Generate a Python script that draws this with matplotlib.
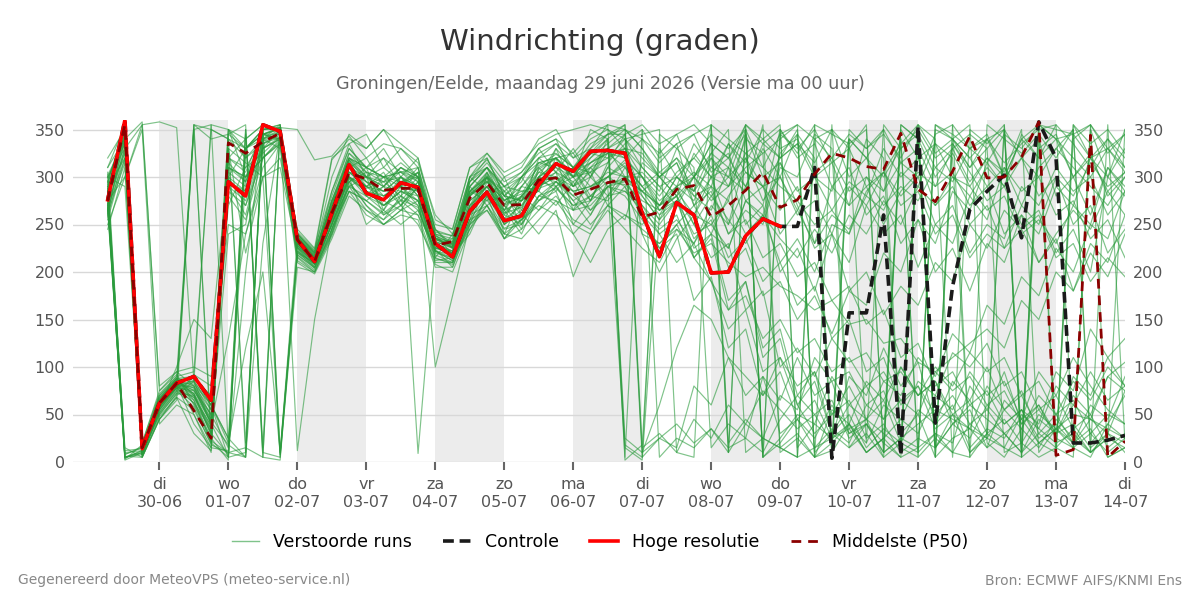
import numpy as np
import pandas as pd
import matplotlib
matplotlib.use("Agg")
import matplotlib.pyplot as plt
from matplotlib.lines import Line2D

# 6-uurlijkse tijdstappen vanaf ma 29-06 06:00
start = "2026-06-29 06:00"

hoge_resolutie = [
    276, 360, 14, 62, 83, 90, 65, 295, 280, 355,
    348, 234, 211, 262, 313, 283, 276, 294, 289, 230,
    216, 264, 284, 254, 259, 292, 314, 306, 327, 328,
    325, 262, 216, 273, 260, 199, 200, 238, 256, 248,
]

controle = [
    276, 360, 14, 62, 83, 90, 65, 295, 280, 355,
    348, 234, 211, 262, 313, 283, 276, 294, 289, 230,
    216, 264, 284, 254, 259, 292, 314, 306, 327, 328,
    325, 262, 216, 273, 260, 199, 200, 238, 256, 248,
    248, 310, 4, 157, 157, 260, 7, 353, 41, 185,
    266, 285, 302, 236, 358, 320, 20, 20, 23, 28,
]

middelste = [
    275, 355, 15, 62, 83, 54, 25, 336, 325, 337,
    346, 234, 211, 262, 304, 298, 286, 288, 288, 228,
    232, 278, 294, 270, 271, 297, 299, 281, 287, 294,
    298, 258, 263, 287, 291, 258, 270, 286, 305, 268,
    276, 303, 325, 320, 311, 308, 346, 287, 274, 306,
    343, 299, 300, 321, 358, 7, 13, 344, 5, 22,
]

# verstoorde runs: per run 60 waarden (29-06 06 uur t/m 14-07 00 uur)
verstoorde_runs = [
    [285, 345, 8, 55, 78, 62, 35, 310, 300, 345, 340, 225, 205,
     250, 318, 280, 300, 270, 295, 240, 218, 290, 270, 285, 250, 310, 290, 300, 275, 310, 330,
     280, 255, 290, 300, 275, 290, 310, 325, 340, 355, 5, 12, 340, 320, 300, 330, 350, 15, 40, 60, 45, 30, 10, 355, 340, 320, 300, 330, 310],
    [270, 5, 12, 60, 85, 75, 50, 15, 330, 350, 5, 220, 210,
     275, 295, 310, 265, 300, 280, 215, 240, 265, 305, 255, 290, 285, 320, 265, 300, 280, 300,
     300, 270, 285, 260, 250, 275, 240, 260, 210, 235, 200, 250, 240, 300, 285, 340, 10, 30, 20, 80, 55, 95, 40, 60, 25, 15, 350, 300, 330],
    [300, 330, 15, 70, 90, 355, 20, 290, 260, 330, 350, 238, 215,
     285, 335, 300, 320, 290, 310, 235, 225, 300, 285, 290, 265, 320, 305, 250, 275, 315, 345,
     240, 230, 250, 215, 190, 140, 160, 95, 110, 60, 30, 50, 80, 45, 65, 20, 10, 350, 340, 320, 290, 310, 270, 310, 330, 350, 20, 40, 70],
    [260, 350, 5, 45, 70, 85, 40, 5, 10, 340, 355, 215, 200,
     240, 290, 265, 255, 280, 270, 210, 210, 255, 300, 240, 280, 265, 290, 310, 305, 270, 255,
     315, 300, 320, 300, 335, 320, 355, 5, 20, 45, 25, 60, 30, 40, 10, 355, 340, 300, 325, 290, 320, 305, 350, 10, 35, 20, 60, 45, 90],
    [290, 320, 18, 65, 82, 40, 15, 330, 315, 300, 320, 230, 218,
     260, 310, 320, 290, 310, 300, 245, 228, 285, 275, 300, 260, 300, 330, 290, 320, 335, 350,
     330, 300, 315, 280, 290, 240, 265, 250, 310, 300, 345, 330, 15, 30, 5, 20, 350, 320, 335, 305, 275, 290, 250, 265, 220, 245, 200, 300, 280],
    [275, 2, 10, 50, 72, 90, 60, 25, 5, 230, 345, 228, 212,
     255, 300, 290, 275, 265, 290, 225, 220, 270, 290, 265, 300, 275, 295, 280, 265, 290, 285,
     270, 240, 255, 230, 270, 250, 320, 290, 300, 260, 275, 240, 290, 270, 305, 280, 300, 250, 270, 220, 250, 235, 290, 270, 310, 285, 300, 260, 285],
    [310, 355, 20, 75, 95, 80, 55, 350, 340, 355, 10, 235, 220,
     300, 345, 330, 350, 320, 300, 250, 245, 310, 320, 280, 295, 330, 340, 300, 350, 340, 355,
     10, 25, 15, 80, 60, 110, 70, 90, 30, 45, 15, 35, 20, 60, 45, 100, 70, 85, 50, 65, 30, 45, 20, 50, 35, 90, 70, 110, 80],
    [250, 300, 350, 40, 60, 50, 10, 350, 320, 340, 330, 210, 198,
     235, 280, 265, 250, 260, 255, 205, 205, 250, 265, 235, 255, 270, 260, 240, 210, 245, 260,
     250, 270, 300, 285, 355, 20, 45, 25, 15, 5, 340, 350, 300, 320, 285, 315, 300, 345, 355, 10, 30, 350, 320, 340, 280, 300, 260, 310, 285],
    [280, 340, 12, 68, 88, 70, 30, 280, 255, 320, 340, 240, 222,
     270, 325, 305, 295, 300, 285, 238, 230, 290, 310, 270, 300, 315, 320, 325, 300, 330, 320,
     340, 315, 335, 345, 355, 10, 40, 25, 70, 55, 110, 85, 95, 60, 75, 30, 50, 5, 355, 330, 345, 300, 320, 280, 300, 250, 270, 220, 245],
    [265, 5, 8, 58, 80, 65, 25, 2, 350, 10, 5, 205, 200,
     245, 285, 275, 260, 270, 250, 212, 215, 245, 280, 265, 240, 280, 275, 250, 240, 265, 245,
     225, 210, 245, 230, 260, 215, 235, 190, 210, 165, 185, 130, 150, 95, 110, 60, 80, 35, 50, 10, 25, 355, 5, 330, 345, 300, 320, 285, 305],
    [295, 350, 10, 62, 84, 88, 70, 320, 305, 350, 352, 232, 214,
     262, 305, 295, 285, 300, 290, 228, 235, 280, 295, 275, 285, 290, 305, 285, 290, 300, 315,
     290, 305, 290, 335, 310, 325, 275, 290, 240, 265, 230, 290, 270, 340, 320, 10, 350, 5, 335, 310, 340, 300, 340, 355, 15, 35, 10, 25, 350],
    [285, 15, 5, 48, 68, 30, 12, 330, 220, 300, 310, 222, 208,
     250, 300, 285, 270, 280, 265, 222, 212, 262, 300, 250, 265, 295, 290, 265, 280, 275, 300,
     260, 225, 240, 170, 195, 120, 140, 70, 95, 45, 65, 25, 40, 10, 25, 45, 30, 70, 55, 95, 70, 85, 45, 60, 30, 40, 15, 30, 10],
    [270, 330, 355, 80, 95, 100, 90, 250, 240, 310, 335, 245, 225,
     320, 335, 345, 310, 330, 315, 260, 240, 300, 325, 300, 310, 340, 350, 320, 330, 355, 5,
     350, 320, 335, 270, 300, 250, 290, 270, 350, 15, 40, 25, 90, 70, 120, 80, 105, 40, 60, 15, 35, 25, 55, 40, 95, 75, 140, 110, 130],
    [300, 290, 20, 72, 90, 95, 350, 340, 330, 345, 350, 226, 210,
     265, 300, 290, 305, 275, 295, 230, 222, 275, 290, 260, 280, 300, 295, 310, 280, 300, 318,
     300, 275, 290, 250, 280, 300, 285, 355, 15, 30, 5, 20, 350, 330, 345, 320, 355, 15, 40, 25, 60, 40, 55, 20, 10, 355, 320, 340, 310],
    [245, 310, 10, 52, 75, 58, 18, 10, 15, 5, 2, 218, 205,
     240, 295, 270, 250, 265, 275, 215, 208, 260, 270, 245, 250, 275, 285, 240, 260, 290, 295,
     285, 300, 280, 325, 300, 310, 250, 270, 200, 225, 180, 240, 210, 270, 240, 260, 205, 250, 230, 280, 255, 310, 285, 300, 260, 275, 235, 255, 215],
    [290, 345, 8, 60, 78, 75, 45, 300, 285, 330, 342, 236, 216,
     275, 320, 305, 300, 315, 300, 235, 232, 285, 305, 275, 290, 315, 310, 300, 325, 320, 340,
     345, 350, 10, 5, 355, 340, 325, 340, 355, 5, 15, 25, 35, 45, 30, 15, 5, 355, 345, 330, 340, 350, 5, 20, 35, 50, 45, 35, 25],
    [275, 8, 15, 65, 85, 50, 15, 12, 300, 320, 338, 230, 212,
     255, 305, 300, 280, 290, 275, 226, 218, 270, 285, 270, 255, 290, 300, 280, 310, 290, 15,
     2, 260, 290, 275, 320, 300, 320, 275, 300, 265, 300, 285, 340, 320, 350, 315, 330, 290, 305, 270, 290, 240, 260, 210, 235, 180, 220, 195, 240],
    [320, 350, 5, 45, 65, 355, 350, 340, 10, 350, 355, 242, 224,
     285, 330, 310, 330, 300, 320, 242, 238, 295, 315, 290, 305, 325, 335, 320, 340, 350, 340,
     320, 300, 280, 300, 325, 350, 10, 25, 15, 5, 355, 345, 335, 350, 10, 25, 40, 55, 45, 35, 25, 15, 5, 355, 350, 345, 355, 5, 15],
    [280, 325, 12, 60, 82, 78, 40, 130, 240, 300, 8, 220, 206,
     245, 300, 280, 265, 290, 270, 220, 215, 255, 280, 250, 275, 285, 270, 295, 265, 280, 310,
     290, 270, 280, 235, 255, 205, 225, 175, 190, 150, 175, 135, 180, 165, 220, 200, 255, 230, 285, 265, 315, 290, 345, 320, 340, 300, 325, 280, 300],
    [265, 340, 18, 70, 88, 65, 20, 320, 340, 355, 350, 234, 214,
     265, 310, 300, 290, 285, 305, 232, 225, 280, 300, 280, 260, 300, 315, 290, 300, 325, 330,
     325, 300, 315, 270, 285, 240, 255, 215, 230, 195, 210, 170, 185, 145, 160, 110, 125, 80, 95, 60, 75, 40, 55, 25, 40, 20, 45, 30, 75],
    [305, 5, 10, 55, 78, 85, 355, 350, 330, 340, 345, 228, 210,
     258, 300, 285, 280, 295, 9, 225, 222, 265, 285, 255, 270, 290, 300, 285, 290, 305, 300,
     285, 260, 275, 240, 250, 225, 275, 260, 325, 345, 5, 355, 35, 10, 25, 350, 320, 335, 300, 290, 265, 280, 240, 255, 230, 270, 250, 310, 290],
    [255, 320, 8, 50, 72, 70, 35, 290, 275, 335, 342, 216, 202,
     245, 295, 270, 255, 270, 290, 100, 175, 250, 270, 240, 255, 275, 290, 270, 280, 295, 292,
     275, 265, 280, 250, 215, 230, 160, 180, 100, 120, 90, 130, 105, 115, 85, 95, 70, 100, 80, 115, 95, 110, 70, 85, 50, 65, 30, 50, 40],
    [285, 355, 15, 62, 80, 92, 80, 270, 310, 340, 348, 232, 216,
     268, 315, 300, 295, 310, 295, 236, 228, 285, 300, 265, 290, 310, 320, 305, 320, 340, 2,
     18, 330, 300, 320, 345, 330, 350, 310, 290, 275, 250, 265, 240, 285, 305, 335, 355, 325, 340, 310, 330, 350, 10, 30, 15, 5, 355, 330, 345],
    [275, 300, 355, 358, 352, 85, 60, 20, 120, 200, 10, 222, 204,
     250, 290, 280, 270, 285, 280, 218, 210, 260, 285, 260, 250, 280, 295, 285, 260, 295, 296,
     270, 250, 275, 300, 335, 320, 345, 300, 315, 270, 225, 240, 180, 200, 155, 185, 165, 210, 190, 250, 225, 265, 245, 260, 215, 230, 190, 215, 195],
    [292, 348, 12, 58, 80, 350, 30, 310, 295, 345, 340, 238, 218,
     272, 320, 310, 300, 305, 290, 240, 232, 290, 310, 285, 300, 320, 325, 310, 335, 345, 350,
     330, 305, 320, 285, 310, 300, 350, 5, 25, 50, 40, 90, 60, 80, 45, 65, 50, 95, 75, 90, 60, 75, 40, 55, 30, 70, 50, 90, 105],
    [268, 3, 18, 66, 86, 72, 28, 340, 320, 335, 344, 226, 210,
     255, 310, 295, 275, 300, 280, 228, 220, 275, 290, 270, 280, 300, 310, 290, 305, 315, 335,
     350, 5, 25, 15, 35, 15, 25, 10, 45, 70, 50, 65, 25, 40, 10, 25, 15, 30, 10, 5, 355, 340, 325, 345, 320, 350, 10, 30, 20],
    [300, 335, 10, 64, 84, 82, 60, 5, 350, 15, 350, 240, 220,
     275, 325, 310, 300, 290, 305, 236, 226, 290, 310, 280, 275, 315, 320, 300, 325, 345, 345,
     5, 25, 40, 20, 35, 10, 355, 340, 320, 335, 300, 315, 270, 290, 250, 285, 305, 290, 330, 345, 330, 10, 20, 5, 15, 355, 335, 350, 325],
    [262, 315, 6, 54, 76, 68, 38, 300, 270, 320, 336, 212, 200,
     238, 285, 260, 250, 265, 260, 208, 200, 245, 270, 235, 245, 265, 280, 255, 245, 280, 285,
     265, 245, 260, 215, 240, 225, 275, 255, 315, 285, 300, 265, 295, 280, 330, 300, 320, 270, 290, 250, 270, 225, 245, 210, 240, 265, 245, 285, 260],
    [290, 10, 12, 60, 82, 76, 42, 18, 5, 345, 352, 230, 214,
     260, 305, 290, 285, 290, 285, 230, 222, 270, 300, 265, 275, 295, 305, 295, 310, 320, 330,
     310, 290, 300, 285, 325, 310, 355, 335, 350, 325, 355, 10, 40, 20, 60, 45, 85, 70, 115, 100, 125, 80, 95, 55, 70, 35, 50, 15, 30],
    [278, 358, 14, 62, 80, 86, 55, 295, 285, 338, 346, 234, 212,
     262, 315, 290, 300, 295, 300, 234, 228, 280, 295, 275, 270, 300, 315, 300, 315, 325, 320,
     300, 280, 305, 320, 300, 335, 305, 290, 265, 290, 230, 260, 245, 280, 265, 305, 290, 335, 320, 5, 30, 15, 50, 35, 80, 60, 95, 65, 80],
    [310, 340, 358, 75, 92, 60, 25, 345, 355, 5, 355, 240, 222,
     318, 340, 330, 350, 335, 320, 255, 245, 310, 325, 305, 315, 335, 345, 350, 355, 350, 330,
     300, 265, 280, 215, 235, 160, 190, 110, 130, 60, 85, 30, 50, 15, 35, 20, 55, 40, 85, 65, 100, 55, 75, 30, 50, 20, 35, 5, 15],
    [282, 352, 10, 58, 80, 80, 40, 330, 20, 335, 348, 230, 212,
     262, 305, 290, 280, 290, 285, 228, 218, 268, 290, 262, 268, 296, 300, 275, 250, 270, 290,
     240, 200, 235, 260, 290, 275, 345, 5, 350, 320, 335, 290, 310, 260, 280, 230, 255, 200, 225, 180, 230, 210, 260, 240, 290, 270, 320, 300, 350],
    [272, 6, 5, 45, 68, 55, 20, 5, 330, 345, 352, 350, 318,
     322, 343, 320, 335, 330, 310, 245, 225, 280, 300, 285, 275, 305, 320, 300, 305, 330, 300,
     305, 285, 330, 310, 15, 40, 25, 90, 65, 110, 70, 85, 30, 45, 5, 355, 340, 5, 25, 35, 15, 65, 45, 95, 70, 110, 80, 55, 40],
    [298, 342, 16, 68, 86, 90, 65, 300, 330, 350, 350, 236, 218,
     270, 320, 310, 300, 305, 295, 236, 226, 282, 302, 272, 278, 308, 320, 300, 310, 330, 345,
     355, 335, 345, 300, 320, 290, 325, 310, 345, 330, 350, 315, 330, 290, 305, 270, 285, 240, 260, 215, 240, 225, 270, 250, 300, 280, 315, 290, 305],
    [258, 328, 10, 56, 100, 150, 130, 310, 300, 330, 340, 224, 208,
     250, 300, 250, 265, 250, 265, 222, 218, 240, 280, 235, 262, 240, 265, 195, 240, 270, 260,
     245, 230, 245, 220, 230, 210, 195, 205, 185, 175, 160, 170, 145, 150, 125, 130, 105, 95, 110, 125, 140, 120, 170, 150, 200, 180, 230, 210, 260],
    [288, 12, 14, 62, 84, 72, 32, 350, 300, 320, 335, 228, 210,
     256, 315, 280, 290, 310, 300, 226, 220, 295, 320, 280, 300, 330, 305, 330, 300, 340, 18,
     5, 345, 330, 345, 305, 320, 290, 335, 320, 350, 10, 30, 15, 40, 20, 5, 15, 355, 340, 320, 340, 315, 335, 350, 355, 15, 5, 40, 25],
    [276, 336, 12, 64, 82, 70, 38, 240, 250, 345, 345, 232, 214,
     260, 295, 305, 270, 285, 275, 230, 220, 300, 310, 290, 285, 285, 330, 310, 290, 300, 312,
     290, 265, 275, 225, 240, 170, 190, 120, 140, 70, 95, 30, 60, 45, 85, 70, 110, 90, 135, 115, 165, 145, 195, 175, 225, 200, 250, 235, 285],
    [266, 320, 8, 52, 74, 350, 355, 15, 330, 345, 338, 226, 208,
     252, 290, 300, 260, 275, 260, 224, 205, 255, 265, 240, 235, 255, 275, 265, 270, 290, 300,
     285, 270, 290, 305, 290, 335, 315, 350, 330, 340, 305, 320, 285, 300, 270, 290, 275, 310, 295, 330, 315, 345, 330, 355, 340, 345, 320, 330, 305],
    [294, 355, 12, 66, 88, 84, 48, 320, 310, 325, 342, 238, 220,
     268, 318, 300, 290, 306, 298, 238, 230, 284, 304, 276, 282, 312, 324, 310, 324, 340, 25,
     10, 60, 120, 165, 150, 110, 90, 70, 110, 80, 95, 50, 65, 25, 40, 10, 25, 15, 50, 35, 80, 55, 70, 35, 20, 30, 10, 25, 15],
    [280, 5, 10, 58, 78, 62, 22, 10, 5, 345, 350, 12, 150,
     246, 285, 275, 290, 270, 290, 222, 212, 250, 295, 270, 245, 300, 285, 310, 275, 310, 300,
     280, 255, 275, 260, 300, 290, 340, 325, 10, 25, 5, 55, 40, 85, 65, 100, 70, 85, 40, 55, 15, 30, 10, 45, 30, 60, 45, 90, 75],
    [288, 342, 10, 60, 84, 78, 50, 315, 295, 340, 350, 230, 212,
     268, 312, 288, 295, 280, 300, 232, 226, 282, 296, 262, 280, 305, 300, 290, 315, 325, 310,
     285, 270, 300, 280, 265, 310, 290, 330, 300, 345, 320, 5, 340, 20, 355, 330, 345, 310, 330, 295, 320, 300, 340, 320, 355, 335, 310, 340, 320],
    [272, 4, 12, 56, 80, 68, 30, 8, 200, 350, 8, 222, 208,
     250, 298, 285, 270, 285, 275, 222, 215, 262, 285, 250, 262, 288, 295, 275, 288, 300, 290,
     260, 240, 210, 230, 190, 160, 175, 130, 150, 115, 130, 95, 110, 80, 95, 65, 80, 50, 70, 40, 55, 30, 45, 20, 35, 15, 30, 10, 25],
    [282, 350, 14, 64, 86, 80, 45, 305, 290, 350, 352, 236, 216,
     265, 318, 295, 285, 300, 290, 234, 230, 285, 300, 280, 275, 295, 315, 305, 315, 330, 340,
     310, 290, 270, 300, 280, 255, 230, 260, 235, 215, 245, 220, 260, 240, 275, 250, 290, 270, 300, 280, 310, 290, 320, 300, 330, 310, 290, 270, 300],
    [302, 338, 8, 58, 82, 355, 340, 345, 330, 350, 355, 236, 214,
     275, 320, 300, 310, 295, 305, 240, 235, 295, 310, 290, 300, 320, 335, 310, 330, 345, 355,
     15, 30, 10, 45, 25, 60, 40, 75, 55, 35, 50, 20, 40, 10, 25, 5, 350, 15, 340, 355, 20, 5, 35, 15, 45, 25, 10, 355, 20],
    [264, 332, 12, 60, 80, 72, 42, 285, 270, 330, 340, 218, 204,
     242, 292, 275, 262, 276, 268, 214, 210, 252, 276, 246, 255, 280, 288, 270, 275, 290, 280,
     255, 225, 250, 270, 240, 280, 305, 290, 320, 335, 315, 350, 330, 355, 10, 340, 5, 25, 10, 40, 25, 55, 35, 70, 50, 85, 65, 100, 80],
    [296, 8, 16, 66, 88, 90, 60, 25, 345, 5, 350, 240, 220,
     280, 330, 310, 320, 305, 310, 244, 238, 300, 318, 295, 305, 330, 340, 325, 345, 355, 350,
     340, 325, 345, 355, 335, 10, 350, 5, 345, 355, 340, 320, 345, 330, 350, 15, 355, 340, 5, 350, 335, 355, 20, 345, 5, 340, 355, 325, 345],
]

dagnamen = ["ma", "di", "wo", "do", "vr", "za", "zo"]

tijd = pd.date_range(start, periods=len(controle), freq="6h")

groen = "#2a9b3c"
fig = plt.figure(figsize=(12, 6), dpi=100)
ax = fig.add_axes([0.061, 0.23, 0.8765, 0.57])

# grijze banden, om de dag
dagen = pd.date_range("2026-06-30", "2026-07-14", freq="D")
for d in dagen[::2]:
    ax.axvspan(d, d + pd.Timedelta(days=1), color="#ececec", lw=0, zorder=0)

for run in verstoorde_runs:
    n = min(len(run), len(tijd))
    ax.plot(tijd[:n], run[:n], color=groen, lw=0.85, alpha=0.6, zorder=2)
ax.plot(tijd, controle, color="#1a1a1a", lw=2.6, ls=(0, (3, 1.6)), zorder=3)
ax.plot(tijd[:len(hoge_resolutie)], hoge_resolutie, color="#ff0000", lw=2.6, zorder=4)
ax.plot(tijd, middelste, color="#8b0000", lw=2.0, ls=(0, (3.5, 2.5)), zorder=5)

ax.set_ylim(0, 360)
ax.set_xlim(pd.Timestamp("2026-06-28 18:00"), pd.Timestamp("2026-07-14 00:00"))
ax.set_yticks(range(0, 351, 50))
ax.grid(axis="y", color="#d8d8d8", lw=1, zorder=1)
ax.set_axisbelow(True)
for s in ax.spines.values():
    s.set_visible(False)

ax.set_xticks(dagen)
ax.set_xticklabels([f"{dagnamen[d.weekday()]}\n{d.strftime('%d-%m')}" for d in dagen])
ax.tick_params(axis="x", colors="#666666", labelcolor="#555555", labelsize=11.5,
               length=6, width=1.5, pad=5)
ax.tick_params(axis="y", length=0, labelsize=11.5, labelcolor="#555555", pad=6,
               labelright=True)

fig.text(0.5, 0.93, "Windrichting (graden)", ha="center", va="center",
         fontsize=21, color="#333333")
fig.text(0.5, 0.86, "Groningen/Eelde, maandag 29 juni 2026 (Versie ma 00 uur)",
         ha="center", va="center", fontsize=12.7, color="#666666")

handles = [
    Line2D([], [], color=groen, lw=1.0, alpha=0.6),
    Line2D([], [], color="#1a1a1a", lw=2.6, ls=(0, (3, 1.6))),
    Line2D([], [], color="#ff0000", lw=2.6),
    Line2D([], [], color="#8b0000", lw=2.0, ls=(0, (3.5, 2.5))),
]
labels = ["Verstoorde runs", "Controle", "Hoge resolutie", "Middelste (P50)"]
fig.legend(handles, labels, loc="center", bbox_to_anchor=(0.5, 0.097), ncol=4,
           frameon=False, fontsize=12.5, handlelength=1.6, columnspacing=1.8)

fig.text(0.015, 0.033, "Gegenereerd door MeteoVPS (meteo-service.nl)",
         ha="left", va="center", fontsize=10, color="#888888")
fig.text(0.985, 0.033, "Bron: ECMWF AIFS/KNMI Ens",
         ha="right", va="center", fontsize=10, color="#888888")

fig.savefig("out.png", dpi=100)
